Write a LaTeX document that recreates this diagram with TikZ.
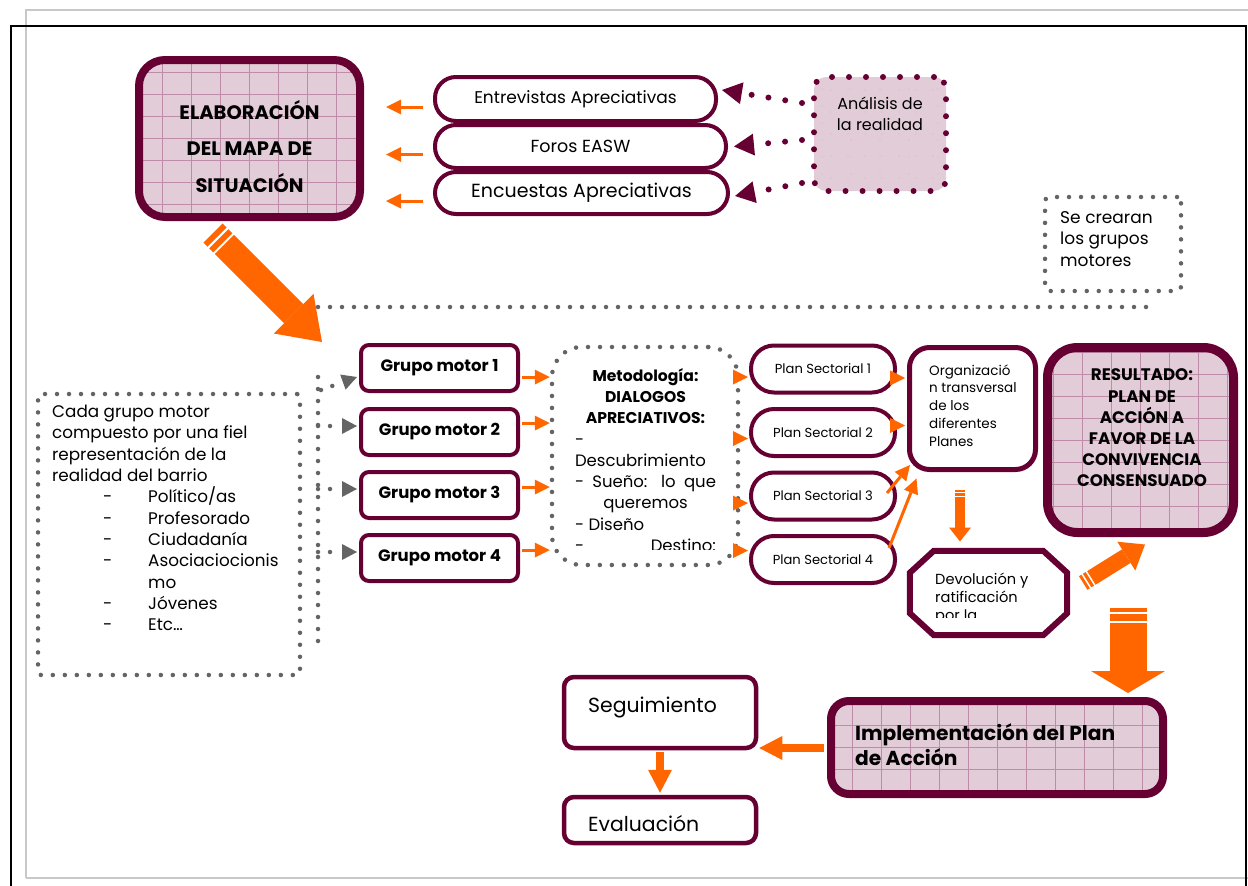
\documentclass[tikz,border=0pt]{standalone}
\usepackage{fontspec}
\setmainfont{Poppins}
\usetikzlibrary{arrows.meta,calc}
\definecolor{granate}{RGB}{102,0,51}
\definecolor{naranja}{RGB}{255,102,0}
\definecolor{gris}{RGB}{100,100,100}
\definecolor{rosa}{RGB}{226,204,216}
\definecolor{rosalinea}{RGB}{190,140,168}
\definecolor{pagina}{RGB}{200,200,200}
\newcommand{\tam}[2]{\fontsize{#1}{#2}\selectfont}
\newcommand{\guion}[1]{\hspace*{51pt}\makebox[45pt][l]{-}#1}
\newcommand{\titulo}[1]{{\bfseries\tam{15.6}{21.3}#1}}
\tikzstyle{marco}=[draw=granate, rectangle, inner sep=0pt]
\tikzstyle{cuadricula}=[fill=rosa, path picture={\draw[rosalinea, line width=0.7pt, xstep=29pt, ystep=22pt] (path picture bounding box.south west) grid (path picture bounding box.north east);}]
\tikzstyle{pastilla}=[marco, fill=white, line width=4pt, rounded corners=21pt]
\tikzstyle{grupo}=[marco, fill=white, line width=4pt, rounded corners=8pt, minimum width=157pt, minimum height=46pt, font=\bfseries\tam{16.5}{18}]
\tikzstyle{plan}=[marco, fill=white, line width=4pt, rounded corners=23pt, minimum width=144pt, minimum height=47pt, font=\tam{13.1}{15}]
\tikzstyle{puntosgris}=[draw=gris, line width=4.5pt, line cap=round, dash pattern=on 0pt off 12pt]
\tikzstyle{puntosgranate}=[draw=granate, line width=6pt, line cap=round, dash pattern=on 0pt off 17pt]
\tikzstyle{flecha}=[draw=naranja, line width=3pt, -{Triangle[length=15pt,width=15pt,line width=0pt]}]
\tikzset{bloque/.style n args={3}{draw=naranja, line width=#1, -{Triangle[length=#2,width=#3,line width=0pt]}},
  rayas/.style={draw=white, line width=#1}}

\begin{document}
\begin{tikzpicture}[x=1pt, y=-1pt]
\useasboundingbox (0,0) rectangle (1248,886);
% Page
    \draw[pagina, line width=1.5pt] (26,878) -- (26,10) -- (1248,10);
    \draw[pagina, line width=1.5pt] (26,878) -- (1248,878);
    \draw[black, line width=2.5pt] (11,886) -- (11,26) -- (1246,26) -- (1246,886);
% Mapa de situacion
    \node[marco, cuadricula, line width=8pt, rounded corners=26pt, minimum width=221pt, minimum height=157pt] (elab) at (249.5,138.5) {};
    \node[align=center, font=\bfseries\tam{19.5}{36.5}] (elab-t) at (249.5,146.5) {ELABORACIÓN\\DEL MAPA DE\\SITUACIÓN};
    \node[pastilla, minimum width=281pt, minimum height=44pt, font=\tam{17}{18}] (ent) at (575.5,99) {Entrevistas Apreciativas};
    \node[pastilla, minimum width=291pt, minimum height=43pt, font=\tam{17.5}{18}] (foros) at (580.5,146.5) {Foros EASW};
    \node[pastilla, minimum width=293pt, minimum height=42pt, font=\tam{19}{20}] (enc) at (581.5,193) {Encuestas Apreciativas};
    \draw[flecha] ($(ent.west)+(-10,8)$) -- ($(ent.west -| elab.east)+(22,8)$);
    \draw[flecha] ($(foros.west)+(-10,8)$) -- ($(foros.west -| elab.east)+(22,8)$);
    \draw[flecha] ($(enc.west)+(-10,8)$) -- ($(enc.west -| elab.east)+(22,8)$);
% Analisis
    \node[marco, puntosgranate, cuadricula, rounded corners=12pt, minimum width=132pt, minimum height=114pt] (ana) at (880,134) {};
    \node[align=center, font=\tam{16}{21}] (ana-t) at (880,114) {Análisis de\\la realidad};
    \draw[puntosgranate, -{Triangle[length=20pt,width=22pt,line width=0pt]}] ($(ana.west)+(-9,-31)$) -- ($(ent.east)+(4,-9)$);
    \draw[puntosgranate, -{Triangle[length=20pt,width=22pt,line width=0pt]}] ($(ana.west)+(-9,6)$) -- ($(foros.east)+(6,0)$);
    \draw[puntosgranate, -{Triangle[length=20pt,width=22pt,line width=0pt]}] ($(ana.west)+(-9,49)$) -- ($(enc.east)+(5,3)$);
% Grupos motores
    \node[rectangle, puntosgris, rounded corners=4pt, minimum width=136pt, minimum height=94pt] (se) at (1113,244) {};
    \node[anchor=west, inner sep=0pt, align=left, font=\tam{17}{21.5}] (se-t) at (1060,239) {Se crearan\\los grupos\\motores};
    \coordinate (linea-i) at (318,307);
    \coordinate (linea-d) at (1152,307);
    \draw[puntosgris] (linea-i) -- (linea-d);
    \coordinate (cola-a) at (213,233);
    \coordinate (punta-a) at (322,342);
    \draw[bloque={27pt}{40pt}{56pt}] (cola-a) -- (punta-a);
    \draw[rayas=28pt, dash pattern=on 0pt off 6pt on 2pt off 6pt on 2pt off 2000pt] (cola-a) -- (punta-a);
    \node[rectangle, puntosgris, rounded corners=3pt, minimum width=262pt, minimum height=281pt] (cada) at (169,534.5) {};
    \node[anchor=north west, inner sep=0pt, align=left, font=\tam{16.8}{21.3}] (cada-t) at (52,405) {Cada grupo motor\\compuesto por una fiel\\representación de la\\realidad del barrio\\\guion{Político/as}\\\guion{Profesorado}\\\guion{Ciudadanía}\\\guion{Asociaciocionis}\\\hspace*{96pt}mo\\\guion{Jóvenes}\\\guion{Etc…}};
    \coordinate (vert-s) at (318,377);
    \coordinate (vert-i) at (318,642);
    \draw[puntosgris] (vert-s) -- (vert-i);
    \node[grupo] (gm1) at (439.5,368) {Grupo motor 1};
    \node[grupo] (gm2) at (439.5,432) {Grupo motor 2};
    \node[grupo] (gm3) at (439.5,495) {Grupo motor 3};
    \node[grupo] (gm4) at (439.5,558) {Grupo motor 4};
    \draw[puntosgris, -{Triangle[length=15pt,width=16pt,line width=0pt]}] ($(vert-s |- gm1.west)+(3,22)$) -- ($(gm1.west)+(-2,9)$);
    \draw[puntosgris, -{Triangle[length=15pt,width=16pt,line width=0pt]}] ($(vert-s |- gm2.west)+(0,-6)$) -- ($(gm2.west)+(-2,-6)$);
    \draw[puntosgris, -{Triangle[length=15pt,width=16pt,line width=0pt]}] ($(vert-s |- gm3.west)+(0,-6)$) -- ($(gm3.west)+(-2,-6)$);
    \draw[puntosgris, -{Triangle[length=15pt,width=16pt,line width=0pt]}] ($(vert-s |- gm4.west)+(0,-6)$) -- ($(gm4.west)+(-2,-6)$);
% Metodologia
    \node[rectangle, puntosgris, rounded corners=30pt, minimum width=186pt, minimum height=218pt] (met) at (645,456) {};
    \draw[flecha] ($(gm1.east)+(2,9)$) -- ($(gm1.east -| met.west)+(0,9)$);
    \draw[flecha] ($(gm2.east)+(2,-9)$) -- ($(gm2.east -| met.west)+(0,-9)$);
    \draw[flecha] ($(gm3.east)+(2,-8)$) -- ($(gm3.east -| met.west)+(0,-8)$);
    \draw[flecha] ($(gm4.east)+(2,-8)$) -- ($(gm4.east -| met.west)+(0,-8)$);
    \begin{scope}
    \clip (545,340) rectangle (745,549);
    \node[anchor=north, inner sep=0pt, align=center, font=\tam{16.5}{21.3}] (met-t) at (645.5,368) {\titulo{Metodología:}\\\titulo{DIALOGOS}\\\titulo{APRECIATIVOS:}\\\makebox[141pt][l]{-}\\\makebox[141pt][l]{Descubrimiento}\\\makebox[141pt][s]{- Sueño: lo que}\\queremos\\\makebox[141pt][l]{- Diseño}\\\makebox[141pt][l]{-\hfill Destino:}};
    \end{scope}
% Planes sectoriales
    \node[plan] (ps1) at (823,369) {Plan Sectorial 1};
    \node[plan] (ps2) at (823,432.5) {Plan Sectorial 2};
    \node[plan] (ps3) at (823,496) {Plan Sectorial 3};
    \node[plan] (ps4) at (823,559.5) {Plan Sectorial 4};
    \draw[flecha] ($(ps1.west -| met.east)+(-1,8)$) -- ($(ps1.west)+(-1,8)$);
    \draw[flecha] ($(ps2.west -| met.east)+(-1,6)$) -- ($(ps2.west)+(-1,6)$);
    \draw[flecha] ($(ps3.west -| met.east)+(-1,7)$) -- ($(ps3.west)+(-1,7)$);
    \draw[flecha] ($(ps4.west -| met.east)+(-1,-9)$) -- ($(ps4.west)+(-1,-9)$);
% Organizacion transversal
    \node[marco, fill=white, line width=5pt, rounded corners=20pt, minimum width=126pt, minimum height=122pt] (org) at (972.5,408.5) {};
    \node[anchor=west, inner sep=0pt, align=left, font=\tam{13.5}{17.8}] (org-t) at (929,405.5) {Organizació\\n transversal\\de los\\diferentes\\Planes};
    \draw[flecha] ($(ps1.east)+(-7,9)$) -- ($(ps1.east -| org.west)+(-2,9)$);
    \draw[flecha] ($(ps2.east)+(-7,-7)$) -- ($(ps2.east -| org.west)+(-2,-7)$);
    \draw[flecha] ($(ps3.east)+(-10,-3)$) -- ($(org.south west)+(3,-7)$);
    \draw[flecha] ($(ps4.east)+(-8,-11.5)$) -- ($(org.south west)+(9.5,6.5)$);
% Devolucion
    \node[inner sep=0pt, minimum width=157pt, minimum height=84pt] (dev) at (988.5,593) {};
    \draw[granate, line width=6pt] ($(dev.north west)+(24,0)$) -- ($(dev.north east)+(-24,0)$) -- ($(dev.north east)+(0,22)$) -- ($(dev.south east)+(0,-22)$) -- ($(dev.south east)+(-24,0)$) -- ($(dev.south west)+(24,0)$) -- ($(dev.south west)+(0,-22)$) -- ($(dev.north west)+(0,22)$) -- cycle;
    \begin{scope}
    \clip (905,545) rectangle (1075,617);
    \node[anchor=north west, inner sep=0pt, align=left, font=\tam{14.6}{18}] (dev-t) at (935,573) {Devolución y\\ratificación\\por la};
    \end{scope}
    \draw[bloque={10pt}{14pt}{22pt}] ($(org.south)+(-12.5,17.5)$) -- ($(org.south)+(-12.5,69.5)$);
    \draw[rayas=11pt, dash pattern=on 0pt off 2pt on 1.2pt off 3pt on 1.2pt off 500pt] ($(org.south)+(-12.5,17.5)$) -- ($(org.south)+(-12.5,69.5)$);
% Resultado
    \node[marco, cuadricula, line width=9pt, rounded corners=30pt, minimum width=186pt, minimum height=185pt] (res) at (1140.5,440) {};
    \node[align=center, font=\bfseries\tam{16.7}{21.2}] (res-t) at (1142,428) {RESULTADO:\\PLAN DE\\ACCIÓN A\\FAVOR DE LA\\CONVIVENCIA\\CONSENSUADO};
    \draw[bloque={16pt}{22pt}{34pt}] ($(dev.east)+(16,-10)$) -- ($(res.south)+(4.5,7.5)$);
    \draw[rayas=17pt, dash pattern=on 0pt off 3pt on 1.5pt off 3.5pt on 1.5pt off 500pt] ($(dev.east)+(16,-10)$) -- ($(res.south)+(4.5,7.5)$);
% Implementacion
    \node[marco, cuadricula, line width=8pt, rounded corners=18pt, minimum width=332pt, minimum height=93pt] (impl) at (997,747.5) {};
    \node[anchor=west, inner sep=0pt, align=left, font=\bfseries\tam{20.2}{25.5}] (impl-t) at (855,744.5) {Implementación del Plan\\de Acción};
    \draw[bloque={37pt}{22pt}{74pt}] ($(res.south)+(-12.5,70.5)$) -- ($(impl.north -| res.south)+(-12.5,-4)$);
    \draw[rayas=38pt, dash pattern=on 0pt off 4pt on 2pt off 7pt on 2pt off 500pt] ($(res.south)+(-12.5,70.5)$) -- ($(impl.north -| res.south)+(-12.5,-4)$);
% Seguimiento y evaluacion
    \node[marco, fill=white, line width=4.5pt, rounded corners=10pt, minimum width=192pt, minimum height=71pt] (seg) at (660,712.5) {};
    \node[anchor=west, inner sep=0pt, font=\tam{20.4}{23}] (seg-t) at (588,707) {Seguimiento};
    \node[marco, fill=white, line width=4.5pt, rounded corners=10pt, minimum width=192pt, minimum height=46pt] (eva) at (660,820) {};
    \node[anchor=west, inner sep=0pt, font=\tam{20.4}{23}] (eva-t) at (588,824) {Evaluación};
    \draw[bloque={8pt}{23pt}{24pt}] ($(impl.west)+(-3,0.5)$) -- ($(seg.east |- impl.west)+(1,0.5)$);
    \draw[bloque={8pt}{23pt}{24pt}] ($(seg.south)+(0,1.5)$) -- ($(eva.north)+(0,-2)$);
\end{tikzpicture}
\end{document}
